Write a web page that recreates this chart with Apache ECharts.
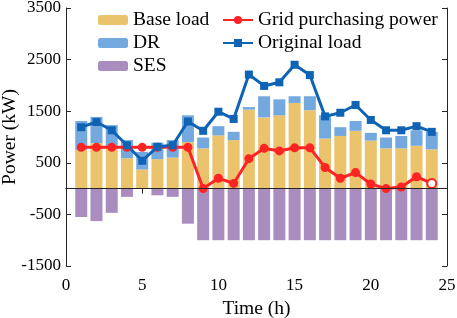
<!DOCTYPE html>
<html>
<head>
<meta charset="utf-8">
<script src="https://cdn.jsdelivr.net/npm/echarts@6/dist/echarts.min.js"></script>
<style>
  html, body { margin: 0; padding: 0; background: #fff; }
  #chart { width: 457px; height: 318px; }
</style>
</head>
<body>
<div id="chart"></div>
<script>
// time axis 0..25 h, data at hours 1..24
const timeTicks = ['0', '1', '2', '3', '4', '5', '6', '7', '8', '9', '10', '11', '12', '13', '14', '15', '16', '17', '18', '19', '20', '21', '22', '23', '24', '25'];
const baseLoad = [750, 880, 800, 590, 370, 570, 600, 900, 780, 1030, 940, 1530, 1380, 1420, 1660, 1520, 970, 1020, 1120, 930, 780, 780, 830, 760];
const drLoad = [560, 510, 430, 350, 340, 320, 340, 520, 210, 180, 160, 50, 410, 310, 130, 270, 450, 170, 190, 150, 210, 240, 300, 340];
const sesPower = [-550, -630, -470, -160, 0, -130, -160, -680, -1000, -1000, -1000, -1000, -1000, -1000, -1000, -1000, -1000, -1000, -1000, -1000, -1000, -1000, -1000, -1000];
const gridPower = [800, 800, 800, 800, 800, 800, 800, 800, 0, 200, 100, 580, 780, 730, 790, 790, 410, 200, 310, 90, 0, 30, 230, 100];
const originalLoad = [1190, 1290, 1130, 840, 540, 810, 840, 1300, 1120, 1490, 1350, 2210, 1990, 2060, 2400, 2200, 1400, 1470, 1620, 1330, 1130, 1130, 1210, 1100];
const yTicks = [-1500, -500, 500, 1500, 2500, 3500];

const font = 'Liberation Serif';
// pad with empty slots at t=0 and t=25
const pad = arr => [null].concat(arr, [null]);

const gridLine = pad(gridPower);
gridLine[24] = {
  value: gridPower[23],
  itemStyle: { color: '#ffffff', borderColor: '#ff2424', borderWidth: 2 }
};

const chart = echarts.init(document.getElementById('chart'), null, { renderer: 'canvas' });

const axisLine = { lineStyle: { color: '#262626', width: 1 } };
const tick = { inside: true, length: 5, lineStyle: { color: '#262626' } };

const xBase = {
  type: 'category',
  data: timeTicks,
  boundaryGap: false,
  axisLine: axisLine,
  axisTick: Object.assign({ interval: 4 }, tick),
  splitLine: { show: false }
};
const yBase = {
  type: 'value',
  min: yTicks[0],
  max: yTicks[yTicks.length - 1],
  interval: 1000,
  axisLine: Object.assign({ show: true }, axisLine),
  axisTick: Object.assign({ show: true }, tick),
  splitLine: { show: false }
};

const legendCommon = {
  orient: 'vertical',
  top: 10,
  padding: 0,
  itemWidth: 30,
  itemHeight: 10,
  itemGap: 3,
  textStyle: { fontFamily: font, fontSize: 19.5, color: '#000', lineHeight: 20 }
};

chart.setOption({
  animation: false,
  backgroundColor: '#ffffff',
  grid: { left: 66, right: 10, top: 8, bottom: 52, outerBoundsMode: 'none', containLabel: false },
  legend: [
    Object.assign({ data: ['Base load', 'DR', 'SES'], left: 98 }, legendCommon),
    Object.assign({ data: ['Grid purchasing power', 'Original load'], left: 222 }, legendCommon)
  ],
  xAxis: [
    Object.assign({}, xBase, {
      name: 'Time (h)',
      nameLocation: 'middle',
      nameGap: 33,
      nameMoveOverlap: false,
      nameTextStyle: { fontFamily: font, fontSize: 19.5, color: '#000' },
      axisLabel: { interval: 4, fontFamily: font, fontSize: 17, color: '#000', margin: 11 }
    }),
    Object.assign({}, xBase, { position: 'top', axisLabel: { show: false } })
  ],
  yAxis: [
    Object.assign({}, yBase, {
      name: 'Power (kW)',
      nameLocation: 'middle',
      nameGap: 46,
      nameMoveOverlap: false,
      nameTextStyle: { fontFamily: font, fontSize: 19.5, color: '#000' },
      axisLabel: { fontFamily: font, fontSize: 17, color: '#000', margin: 5, formatter: v => String(v) }
    }),
    Object.assign({}, yBase, { position: 'right', axisLabel: { show: false } })
  ],
  series: [
    {
      name: 'Base load',
      type: 'bar',
      stack: 'load',
      barWidth: 12,
      itemStyle: { color: '#eac36c' },
      data: pad(baseLoad)
    },
    {
      name: 'DR',
      type: 'bar',
      stack: 'load',
      barWidth: 12,
      itemStyle: { color: '#74a9df' },
      data: pad(drLoad)
    },
    {
      name: 'SES',
      type: 'bar',
      stack: 'load',
      barWidth: 12,
      itemStyle: { color: '#a98dbf' },
      data: pad(sesPower),
      markLine: {
        silent: true,
        symbol: 'none',
        label: { show: false },
        lineStyle: { color: '#262626', width: 1, type: 'solid' },
        data: [{ yAxis: 0 }]
      }
    },
    {
      name: 'Grid purchasing power',
      type: 'line',
      symbol: 'circle',
      symbolSize: 9,
      itemStyle: { color: '#ff2424' },
      lineStyle: { color: '#ff2424', width: 3 },
      data: gridLine
    },
    {
      name: 'Original load',
      type: 'line',
      symbol: 'rect',
      symbolSize: 8,
      itemStyle: { color: '#0f63b5' },
      lineStyle: { color: '#0f63b5', width: 3 },
      data: pad(originalLoad)
    }
  ]
});
</script>
</body>
</html>
